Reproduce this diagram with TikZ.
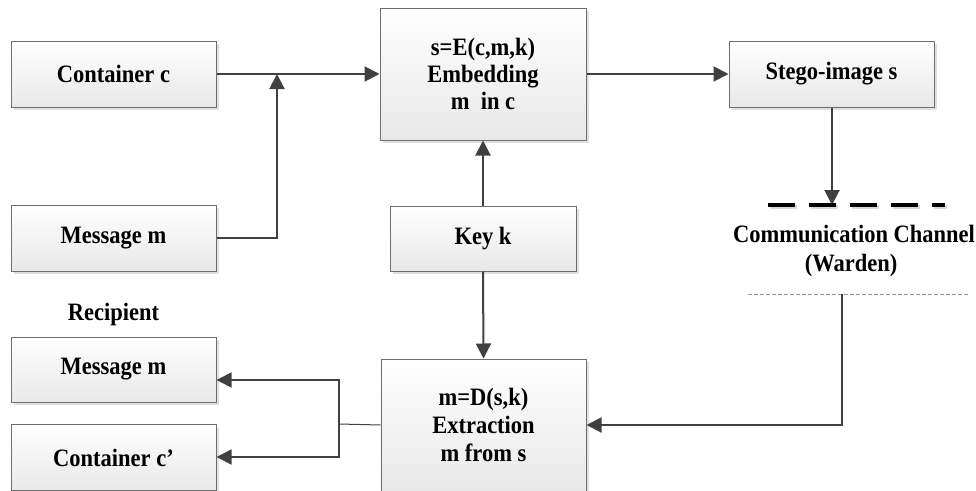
\documentclass[tikz,border=0pt]{standalone}
\usepackage{fontspec}
\setmainfont{Liberation Serif}[FakeStretch=0.9]
\usetikzlibrary{arrows.meta,shadows,calc}
\definecolor{linec}{HTML}{404040}
\definecolor{boxline}{HTML}{6E6E6E}
\begin{document}
\begin{tikzpicture}[x=1pt,y=-1pt,
  box/.style={draw=boxline,line width=1pt,top color=white,bottom color=black!9,
    drop shadow={shadow xshift=3pt,shadow yshift=-3pt,fill=black!12,opacity=1},
    inner sep=0pt,align=center,font=\fontsize{25}{27}\selectfont\bfseries},
  arr/.style={draw=linec,line width=2pt,-{Triangle[length=15pt,width=15pt]}},
  lbl/.style={font=\fontsize{25}{25}\selectfont\bfseries,align=center,inner sep=0pt}]
\useasboundingbox (0,0) rectangle (976,490);
\node[box,minimum width=205pt,minimum height=66pt] (cont) at (113.5,74) {Container c};
\node[box,minimum width=205pt,minimum height=66pt] (msg) at (113.5,238) {Message m};
\node[box,minimum width=206pt,minimum height=132pt] (emb) at (483,74) {s=E(c,m,k)\\Embedding\\m\ \ in c};
\node[box,minimum width=186pt,minimum height=65pt] (key) at (483,238.5) {Key k};
\node[box,minimum width=205pt,minimum height=66pt] (stego) at (831.5,74) {Stego-image s};
\node[box,minimum width=205pt,minimum height=65pt] (rmsg) at (113.5,369.5) {Message m};
\node[box,minimum width=205pt,minimum height=66pt] (rcont) at (113.5,457.5) {Container c’};
\node[box,minimum width=205pt,minimum height=132pt,font=\fontsize{25}{28}\selectfont\bfseries] (ext) at (483.5,425) {m=D(s,k)\\Extraction\\m from s};
\node[lbl] (rec) at (113.5,314) {Recipient};
\node[lbl] (comm) at (854,234) {Communication Channel};
\node[lbl] (ward) at (851,265) {(Warden)};
\coordinate (j) at (277,74);
\coordinate (ch) at (832,205);
\coordinate (chl) at (768,205);
\coordinate (chr) at (945,205);
\coordinate (wl) at (748,294);
\coordinate (wr) at (968,294);
\coordinate (w) at (842,294);
\coordinate (sp) at (339,424);
% connectors
\draw[arr] (cont.east) -- (cont.east -| emb.west);
\draw[arr] (msg.east) -| (j);
\draw[arr] (emb.east |- stego.west) -- (stego.west);
\draw[arr] (key.north) -- (emb.south);
\draw[arr] (key.south) -- (ext.north);
\draw[arr] (stego.south -| ch) -- (ch);
\draw[black!15,line width=4pt,dash pattern=on 27pt off 14pt,transform canvas={xshift=1.5pt,yshift=-2pt}] (chl) -- (chr);
\draw[black,line width=4pt,dash pattern=on 27pt off 14pt] (chl) -- (chr);
\draw[black!40,line width=1pt,dash pattern=on 4pt off 2pt] (wl) -- (wr);
\draw[arr] (w) |- (ext.east);
\draw[linec,line width=1pt] (ext.west) -- (sp);
\draw[arr,line width=1.6pt] (sp) |- ([yshift=-10.5pt]rmsg.east);
\draw[arr,line width=1.6pt] (sp) |- ([yshift=0.5pt]rcont.east);
\end{tikzpicture}
\end{document}
